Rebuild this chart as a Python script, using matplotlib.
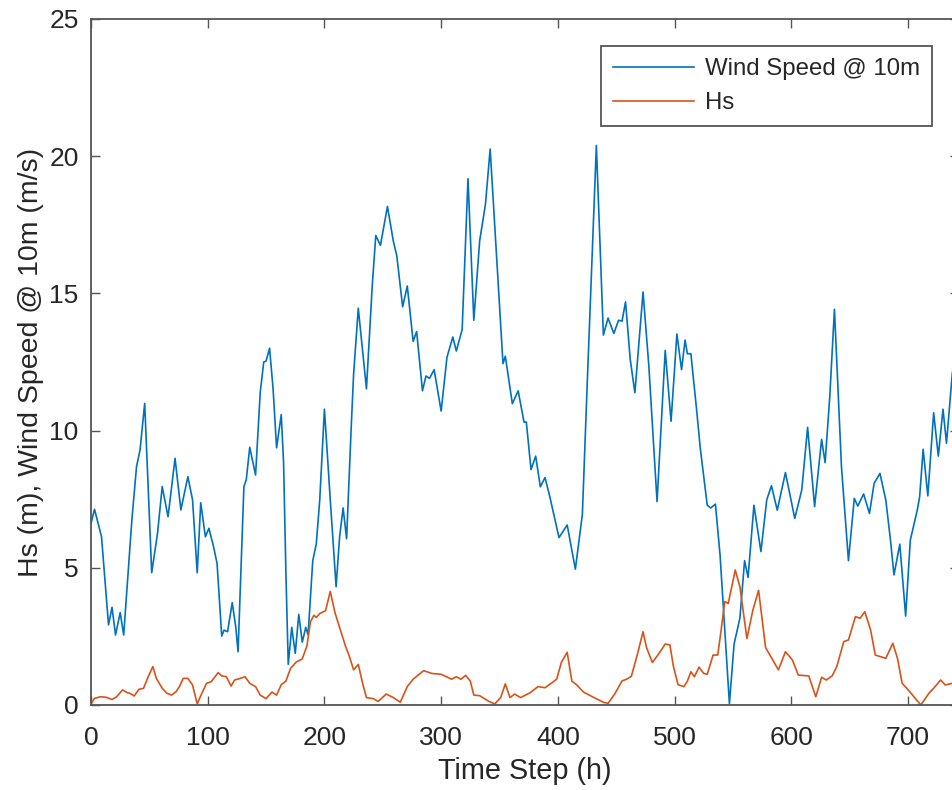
import matplotlib
matplotlib.use("Agg")
import matplotlib.pyplot as plt

plt.rcParams['font.family'] = ['Liberation Sans', 'DejaVu Sans']

# wind speed @ 10m (m/s)
wind_t = [0, 3, 9, 15, 18, 21, 25, 28, 35, 39, 42, 46, 52, 57, 61, 66, 72, 77, 83, 87,
          91, 94, 98, 101, 105, 108, 112, 114, 117, 121, 124, 126, 131, 133, 136, 141, 145, 148, 150, 153,
          156, 159, 163, 165, 167, 169, 172, 175, 178, 181, 184, 186, 190, 193, 196, 200, 205, 210, 213, 216,
          219, 223, 225, 229, 236, 241, 244, 248, 251, 254, 259, 262, 267, 271, 276, 279, 284, 287, 290, 294,
          300, 305, 310, 313, 318, 323, 328, 333, 338, 342, 348, 353, 355, 361, 366, 371, 373, 377, 381, 385,
          389, 393, 401, 408, 415, 421, 425, 433, 439, 443, 448, 452, 455, 458, 462, 466, 473, 478, 485, 492,
          497, 502, 506, 509, 511, 514, 519, 522, 528, 531, 535, 539, 547, 551, 556, 560, 563, 568, 574, 579,
          583, 588, 595, 603, 609, 614, 620, 626, 629, 633, 637, 643, 649, 654, 657, 662, 667, 671, 676, 681,
          685, 688, 693, 698, 702, 708, 710, 713, 717, 722, 726, 730, 733, 738, 744]
wind = [6.62, 7.13, 6.13, 2.92, 3.56, 2.55, 3.37, 2.55, 6.74, 8.69, 9.29, 10.99, 4.82, 6.26, 7.96, 6.86, 8.99, 7.11, 8.32, 7.47,
        4.82, 7.37, 6.13, 6.44, 5.77, 5.16, 2.51, 2.73, 2.67, 3.73, 2.85, 1.94, 7.96, 8.2, 9.39, 8.38, 11.4, 12.5, 12.53, 13.0,
        11.52, 9.37, 10.58, 8.83, 4.78, 1.48, 2.83, 1.88, 3.30, 2.29, 2.83, 2.56, 5.26, 5.86, 7.48, 10.78, 7.48, 4.31, 6.13, 7.18,
        6.06, 10.17, 12.06, 14.46, 11.52, 15.3, 17.11, 16.75, 17.45, 18.17, 16.91, 16.37, 14.51, 15.27, 13.25, 13.61, 11.45, 11.99, 11.9, 12.22,
        10.71, 12.67, 13.41, 12.9, 13.68, 19.18, 14.02, 16.91, 18.26, 20.26, 15.97, 12.44, 12.71, 10.98, 11.45, 10.31, 10.31, 8.58, 9.07, 7.95,
        8.29, 7.61, 6.1, 6.56, 4.95, 6.94, 11.52, 20.39, 13.48, 14.1, 13.54, 14.02, 13.99, 14.69, 12.6, 11.38, 15.05, 12.33, 7.41, 12.92,
        10.34, 13.52, 12.22, 13.3, 12.8, 12.8, 10.71, 9.37, 7.28, 7.18, 7.32, 5.46, 0.05, 2.22, 3.17, 5.26, 4.65, 7.28, 5.59, 7.48,
        7.99, 7.1, 8.47, 6.8, 7.84, 10.12, 7.23, 9.68, 8.83, 11.24, 14.42, 8.69, 5.26, 7.53, 7.25, 7.69, 6.98, 8.08, 8.44, 7.47,
        6.01, 4.74, 5.86, 3.24, 6.01, 7.11, 7.59, 9.32, 7.62, 10.65, 9.07, 10.78, 9.54, 12.09, 13.5]

# significant wave height Hs (m)
hs_t = [0, 3, 8, 13, 18, 22, 27, 31, 33, 37, 41, 45, 49, 53, 56, 61, 65, 69, 73, 76,
        79, 83, 87, 91, 95, 99, 103, 109, 112, 116, 120, 123, 128, 132, 136, 141, 145, 150, 155, 159,
        163, 167, 171, 176, 181, 185, 188, 191, 193, 196, 201, 205, 209, 213, 218, 221, 225, 229, 233, 236,
        242, 246, 253, 259, 265, 271, 276, 285, 292, 300, 309, 313, 317, 321, 325, 328, 333, 341, 346, 351,
        355, 359, 363, 368, 376, 383, 389, 395, 399, 403, 408, 412, 416, 422, 431, 439, 443, 449, 455, 459,
        463, 468, 473, 476, 481, 486, 492, 496, 499, 503, 508, 511, 514, 517, 521, 525, 528, 533, 537, 540,
        543, 546, 552, 556, 562, 567, 572, 578, 582, 589, 595, 601, 606, 615, 621, 626, 630, 635, 639, 645,
        649, 655, 659, 663, 668, 672, 681, 687, 691, 695, 699, 711, 718, 722, 728, 732, 738, 744]
hs = [0.04, 0.24, 0.3, 0.28, 0.2, 0.3, 0.55, 0.45, 0.43, 0.33, 0.57, 0.61, 1.03, 1.4, 0.97, 0.61, 0.43, 0.36, 0.49, 0.69,
      0.97, 0.97, 0.73, 0.04, 0.43, 0.79, 0.85, 1.18, 1.06, 1.03, 0.69, 0.91, 0.97, 1.03, 0.79, 0.67, 0.36, 0.23, 0.47, 0.36,
      0.74, 0.87, 1.34, 1.57, 1.68, 2.15, 3.03, 3.27, 3.19, 3.33, 3.44, 4.14, 3.37, 2.83, 2.15, 1.82, 1.28, 1.48, 0.74, 0.27,
      0.23, 0.13, 0.4, 0.27, 0.1, 0.67, 0.94, 1.25, 1.15, 1.12, 0.94, 1.03, 0.94, 1.08, 0.87, 0.36, 0.34, 0.13, 0.04, 0.27,
      0.77, 0.27, 0.4, 0.27, 0.44, 0.67, 0.63, 0.81, 0.94, 1.55, 1.92, 0.87, 0.74, 0.47, 0.27, 0.1, 0.06, 0.42, 0.88, 0.94,
      1.05, 1.82, 2.67, 2.09, 1.55, 1.84, 2.22, 2.19, 1.41, 0.74, 0.67, 0.87, 1.21, 1.03, 1.38, 1.15, 1.12, 1.82, 1.82, 2.76,
      3.77, 3.70, 4.92, 4.31, 2.42, 3.44, 4.18, 2.09, 1.8, 1.28, 1.94, 1.64, 1.09, 1.06, 0.3, 1.01, 0.91, 1.06, 1.4, 2.31,
      2.37, 3.22, 3.16, 3.4, 2.73, 1.82, 1.7, 2.25, 1.7, 0.79, 0.61, 0.0, 0.43, 0.61, 0.91, 0.73, 0.79, 0.85]

text_col = '#262626'
fig = plt.figure(figsize=(9.52, 7.9), dpi=100)
ax = fig.add_axes([0.0956, 0.1076, 0.9121, 0.8684])

ax.plot(wind_t, wind, color='#0072BD', lw=1.2, label='Wind Speed @ 10m')
ax.plot(hs_t, hs, color='#D95319', lw=1.2, label='Hs')

ax.set_xlim(0, 744)
ax.set_ylim(0, 25)
ax.set_xticks(range(0, 701, 100))
ax.set_yticks(range(0, 26, 5))
ax.tick_params(direction='in', length=6.5, width=1.0, colors='#555555',
               labelcolor=text_col, labelsize=19, top=True, right=True)
ax.tick_params(axis='x', pad=15)
ax.tick_params(axis='y', pad=9)
for s in ax.spines.values():
    s.set_color('#555555')
    s.set_linewidth(1.3)

ax.set_xlabel('Time Step (h)', fontsize=20.8, color=text_col, labelpad=5)
ax.set_ylabel('Hs (m), Wind Speed @ 10m (m/s)', fontsize=20.5, color=text_col, labelpad=4)

leg = ax.legend(loc='upper right', bbox_to_anchor=(0.969, 0.9606), borderaxespad=0,
                fontsize=17.3, fancybox=False, framealpha=1, edgecolor='#555555',
                handlelength=3.4, labelspacing=0.5, borderpad=0.5, handletextpad=0.45)
leg.get_frame().set_linewidth(1.3)
for t in leg.get_texts():
    t.set_color(text_col)

fig.savefig('out.png', dpi=100)
